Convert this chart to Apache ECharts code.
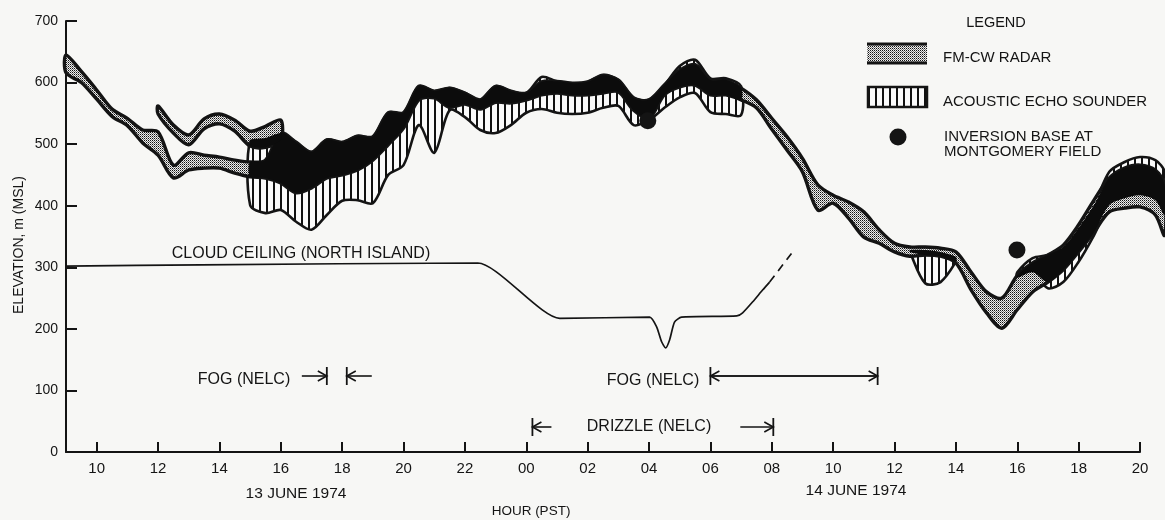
<!DOCTYPE html>
<html>
<head>
<meta charset="utf-8">
<script src="https://cdn.jsdelivr.net/npm/echarts@6/dist/echarts.min.js"></script>
<style>
  html, body { margin: 0; background: #f7f7f5; }
  #chart { width: 1165px; height: 520px; }
</style>
</head>
<body>
<div id="chart"></div>
<script>
// hours counted from 00 on 13 June 1974 (24 = 00 on 14 June)
const hours = [9, 9.5, 10, 10.5, 11, 11.5, 12, 12.5, 13, 13.5, 14, 14.5, 15, 15.5, 16, 16.5, 17, 17.5,
  18, 18.5, 19, 19.5, 20, 20.5, 21, 21.5, 22, 22.5, 23, 23.5, 24, 24.5, 25, 25.5, 26, 26.5, 27, 27.5,
  28, 28.5, 29, 29.5, 30, 30.5, 31, 31.5, 32, 32.5, 33, 33.5, 34, 34.5, 35, 35.5, 36, 36.5, 37, 37.5,
  38, 38.5, 39, 39.5, 40, 40.5, 41, 41.5, 42, 42.5, 43, 43.5, 44, 44.5, 44.8];

// FM-CW radar, main layer (m MSL)
const radarHigh = [645, 618, 588, 557, 542, 523, 520, 466, 486, 482, 479, 474, 471, 474, 518, 503, 487, 507,
  503, 513, 512, 551, 551, 594, 586, 591, 583, 572, 594, 586, 583, 601, 602, 599, 601, 612, 604, 575,
  572, 596, 620, 629, 604, 604, 591, 572, 542, 512, 477, 434, 417, 406, 390, 361, 339, 333, 333, 331,
  325, 292, 260, 250, 287, 307, 320, 336, 369, 409, 445, 461, 466, 458, 434];
const radarLow = [616, 600, 573, 545, 530, 502, 482, 445, 458, 461, 461, 453, 447, 445, 437, 421, 429, 445,
  450, 458, 474, 499, 526, 572, 575, 560, 565, 557, 568, 567, 572, 580, 583, 580, 580, 583, 585, 555,
  542, 580, 593, 596, 580, 580, 572, 559, 524, 490, 455, 393, 404, 380, 349, 339, 325, 318, 320, 318,
  307, 263, 226, 201, 231, 260, 276, 296, 325, 357, 390, 396, 398, 385, 352];

// FM-CW radar, upper layer 12-16 h
const radarUpperHigh = [null, null, null, null, null, null, 562, 531, 515, 541, 549, 539, 521, 529, 539];
const radarUpperLow = [null, null, null, null, null, null, 549, 518, 499, 525, 533, 521, 497, 495, 507];

// acoustic echo sounder
const echoHigh = [null, null, null, null, null, null, null, null, null, null, null, null, 507, 510, 518, 503, 487, 507,
  503, 513, 512, 551, 551, 594, 586, 591, 583, 572, 594, 586, 583, 609, 602, 599, 601, 612, 604, 575,
  572, 596, 627, 637, 607, 607, 594, null, null, null, null, null, null, null, null, null, null, 328, 328, 325,
  317, null, null, null, 292, 315, 320, 333, 364, 401, 455, 471, 479, 474, 455];
const echoLow = [null, null, null, null, null, null, null, null, null, null, null, null, 401, 388, 393, 374, 361, 385,
  408, 409, 404, 450, 466, 531, 486, 555, 544, 523, 518, 531, 551, 557, 551, 549, 551, 559, 562, 531,
  539, 559, 576, 583, 552, 549, 547, null, null, null, null, null, null, null, null, null, null, 325, 274, 276,
  309, null, null, null, 283, 292, 266, 276, 309, 352, 401, 412, 417, 409, 385];

// cloud ceiling (North Island)
const ceilingHours = [9, 13.4, 22.42, 25.09, 28.02, 28.25, 28.41, 28.54, 28.67, 28.83, 29.06, 30.86, 31.05, 31.38, 31.7, 31.93];
const ceilingM = [302, 304, 307, 217, 219, 203, 179, 169, 182, 211, 219, 221, 226, 244, 263, 276];
const ceilingDashHours = [31.93, 32.65];
const ceilingDashM = [276, 323];

// inversion base at Montgomery Field
const inversionHours = [27.96, 39.99];
const inversionM = [538, 328];

// fog / drizzle periods (NELC)
const periodStart = [17.5, 30.0, 24.2];
const periodEnd = [18.15, 35.45, 32.05];
const periodKind = ['inward', 'span', 'split'];

const tickHours = [10, 12, 14, 16, 18, 20, 22, 24, 26, 28, 30, 32, 34, 36, 38, 40, 42, 44];
const tickLabels = ['10', '12', '14', '16', '18', '20', '22', '00', '02', '04', '06', '08', '10', '12', '14', '16', '18', '20'];

// ---- layout / style ----
const ink = '#141414';
const font = '"Liberation Sans", Arial, sans-serif';
const periodRowY = [376, 376, 427];

function makeStipple() {
  const c = document.createElement('canvas');
  c.width = 2; c.height = 2;
  const g = c.getContext('2d');
  g.fillStyle = '#efefef'; g.fillRect(0, 0, 2, 2);
  g.fillStyle = '#111'; g.fillRect(0, 0, 1, 1);
  g.fillStyle = '#7a7a7a'; g.fillRect(1, 1, 1, 1);
  return c;
}
function makeHatch() {
  const c = document.createElement('canvas');
  c.width = 7; c.height = 8;
  const g = c.getContext('2d');
  g.fillStyle = '#fafafa'; g.fillRect(0, 0, 7, 8);
  g.fillStyle = '#111'; g.fillRect(0, 0, 2, 8);
  return c;
}
const stipple = { image: makeStipple(), repeat: 'repeat' };
const hatch = { image: makeHatch(), repeat: 'repeat' };

function segments(low, high) {
  const out = [];
  let cur = null;
  hours.forEach(function (h, i) {
    if (low[i] == null || high[i] == null) { cur = null; return; }
    if (!cur) { cur = []; out.push(cur); }
    cur.push([h, low[i], high[i]]);
  });
  return out;
}

function overlap(aLow, aHigh, bLow, bHigh) {
  const lo = [], hi = [];
  hours.forEach(function (h, i) {
    if (aLow[i] == null || aHigh[i] == null || bLow[i] == null || bHigh[i] == null) {
      lo.push(null); hi.push(null); return;
    }
    const l = Math.max(aLow[i], bLow[i]);
    const u = Math.min(aHigh[i], bHigh[i]);
    lo.push(l); hi.push(Math.max(l, u));
  });
  return [lo, hi];
}

function bandSeries(name, segs, fill, stroke, lineWidth, z) {
  return {
    type: 'custom',
    name: name,
    z: z,
    silent: true,
    clip: false,
    encode: { x: 0, y: 1 },
    data: segs.map(function (s) { return [s[0][0], s[0][1]]; }),
    renderItem: function (params, api) {
      const seg = segs[params.dataIndex];
      const top = seg.map(function (p) { return api.coord([p[0], p[2]]); });
      const bot = seg.map(function (p) { return api.coord([p[0], p[1]]); }).reverse();
      return {
        type: 'polygon',
        shape: { points: top.concat(bot), smooth: 0.3 },
        style: { fill: fill, stroke: stroke, lineWidth: lineWidth, lineJoin: 'round' }
      };
    }
  };
}

const radarUpperFull = hours.map(function (h, i) { return i < radarUpperHigh.length ? radarUpperHigh[i] : null; });
const radarUpperLowFull = hours.map(function (h, i) { return i < radarUpperLow.length ? radarUpperLow[i] : null; });
const ov1 = overlap(radarLow, radarHigh, echoLow, echoHigh);
const ov2 = overlap(radarUpperLowFull, radarUpperFull, echoLow, echoHigh);

function bar(x, y) {
  return { type: 'line', shape: { x1: x, y1: y - 9, x2: x, y2: y + 9 }, style: { stroke: ink, lineWidth: 1.8 } };
}
function arrow(xFrom, xTo, y) {
  const d = xTo > xFrom ? 1 : -1;
  return [
    { type: 'line', shape: { x1: xFrom, y1: y, x2: xTo, y2: y }, style: { stroke: ink, lineWidth: 1.6 } },
    { type: 'polyline', shape: { points: [[xTo - d * 9, y - 5], [xTo, y], [xTo - d * 9, y + 5]] },
      style: { stroke: ink, lineWidth: 1.6, fill: null } }
  ];
}

function txt(text, x, y, size, align, rot) {
  return {
    type: 'text', x: x, y: y, rotation: rot || 0,
    style: { text: text, fill: ink, fontSize: size, fontFamily: font, align: align || 'center', verticalAlign: 'middle' }
  };
}

const chart = echarts.init(document.getElementById('chart'), null, { renderer: 'canvas' });

chart.setOption({
  backgroundColor: '#f7f7f5',
  animation: false,
  grid: { left: 66, right: 25, top: 21, bottom: 68 },
  xAxis: {
    type: 'value', min: 9, max: 44,
    axisLine: { show: true, lineStyle: { color: ink, width: 2 } },
    axisTick: { show: true, inside: true, length: 10, customValues: tickHours, lineStyle: { color: ink, width: 2 } },
    axisLabel: {
      customValues: tickHours, margin: 9, color: ink, fontSize: 15, fontFamily: font,
      formatter: function (v) { return tickLabels[tickHours.indexOf(v)]; }
    },
    splitLine: { show: false }
  },
  yAxis: {
    type: 'value', min: 0, max: 700, interval: 100,
    axisLine: { show: true, lineStyle: { color: ink, width: 2 } },
    axisTick: { show: true, inside: true, length: 11, lineStyle: { color: ink, width: 2 } },
    axisLabel: { margin: 8, color: ink, fontSize: 14, fontFamily: font },
    splitLine: { show: false }
  },
  graphic: [
    txt('ELEVATION, m (MSL)', 19, 245, 14, 'center', Math.PI / 2),
    txt('13 JUNE 1974', 296, 494, 15.5),
    txt('14 JUNE 1974', 856, 491, 15.5),
    txt('HOUR (PST)', 531, 511, 13.5),
    txt('CLOUD CEILING (NORTH ISLAND)', 301, 254, 16),
    txt('FOG (NELC)', 244, 380, 16),
    txt('FOG (NELC)', 653, 381, 16),
    txt('DRIZZLE (NELC)', 649, 427, 16),
    txt('LEGEND', 996, 23, 14.5),
    txt('FM-CW RADAR', 943, 58, 15, 'left'),
    txt('ACOUSTIC ECHO SOUNDER', 943, 102, 15, 'left'),
    txt('INVERSION BASE AT', 944, 137, 15, 'left'),
    txt('MONTGOMERY FIELD', 944, 152, 15, 'left'),
    { type: 'rect', shape: { x: 867, y: 44, width: 60, height: 19 }, style: { fill: stipple } },
    { type: 'line', shape: { x1: 867, y1: 44, x2: 927, y2: 44 }, style: { stroke: ink, lineWidth: 3 } },
    { type: 'line', shape: { x1: 867, y1: 63, x2: 927, y2: 63 }, style: { stroke: ink, lineWidth: 3 } },
    { type: 'rect', shape: { x: 868, y: 87, width: 59, height: 20 }, style: { fill: hatch, stroke: ink, lineWidth: 2.5 } },
    { type: 'circle', shape: { cx: 898, cy: 137, r: 8.5 }, style: { fill: ink } }
  ],
  series: [
    bandSeries('ACOUSTIC ECHO SOUNDER', segments(echoLow, echoHigh), hatch, ink, 2.6, 2),
    bandSeries('FM-CW RADAR', segments(radarLow, radarHigh), stipple, ink, 3.4, 3),
    bandSeries('FM-CW RADAR upper', segments(radarUpperLowFull, radarUpperFull), stipple, ink, 3.4, 3),
    bandSeries('overlap', segments(ov1[0], ov1[1]), '#0c0c0c', null, 0, 4),
    bandSeries('overlap upper', segments(ov2[0], ov2[1]), '#0c0c0c', null, 0, 4),
    {
      type: 'line', name: 'CLOUD CEILING', z: 5, symbol: 'none', smooth: 0.2,
      data: ceilingHours.map(function (h, i) { return [h, ceilingM[i]]; }),
      lineStyle: { color: ink, width: 1.7 }
    },
    {
      type: 'line', name: 'CLOUD CEILING (est.)', z: 5, symbol: 'none',
      data: ceilingDashHours.map(function (h, i) { return [h, ceilingDashM[i]]; }),
      lineStyle: { color: ink, width: 1.7, type: [8, 6] }
    },
    {
      type: 'scatter', name: 'INVERSION BASE', z: 6, symbolSize: 17,
      data: inversionHours.map(function (h, i) { return [h, inversionM[i]]; }),
      itemStyle: { color: ink, opacity: 1 }
    },
    {
      type: 'custom', name: 'periods', z: 5, silent: true, clip: false,
      encode: { x: [0, 1], y: 2 },
      data: periodStart.map(function (s, i) { return [s, periodEnd[i], 0]; }),
      renderItem: function (params, api) {
        const i = params.dataIndex;
        const x0 = api.coord([api.value(0), 0])[0];
        const x1 = api.coord([api.value(1), 0])[0];
        const y = periodRowY[i];
        let kids = [bar(x0, y), bar(x1, y)];
        if (periodKind[i] === 'inward') {
          kids = kids.concat(arrow(x0 - 25, x0, y), arrow(x1 + 25, x1, y));
        } else if (periodKind[i] === 'span') {
          kids = kids.concat(arrow(x1, x0, y), arrow(x0, x1, y));
        } else {
          kids = kids.concat(arrow(x0 + 19, x0, y), arrow(x1 - 33, x1, y));
        }
        return { type: 'group', children: kids };
      }
    }
  ]
});
</script>
</body>
</html>
